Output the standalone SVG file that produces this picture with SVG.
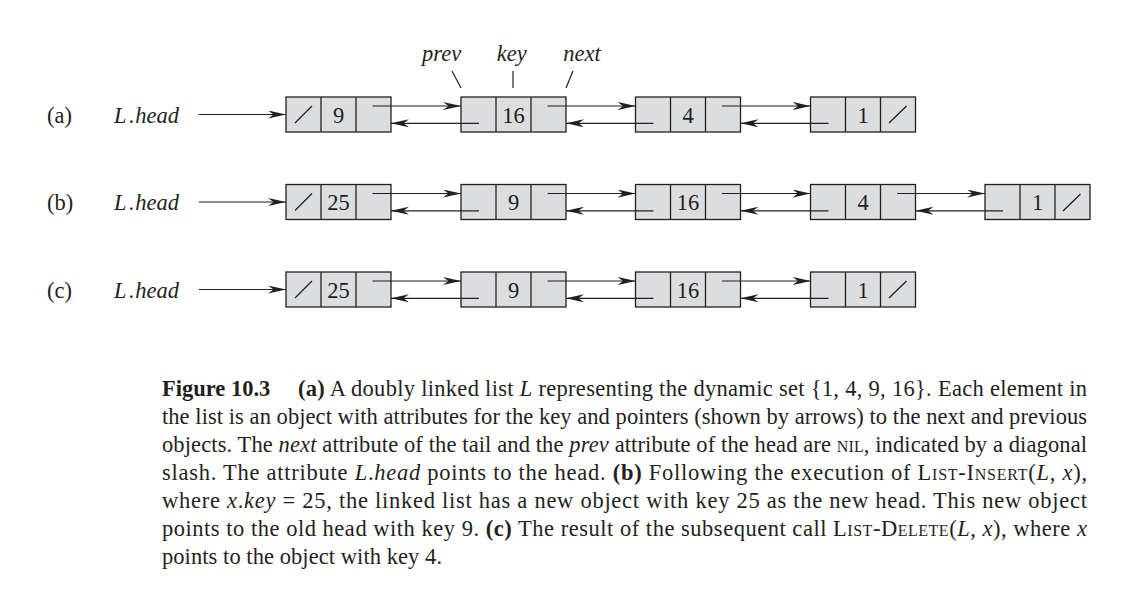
<svg xmlns="http://www.w3.org/2000/svg" width="1139" height="608" viewBox="0 0 1139 608">
<style>
text{font-family:"Liberation Serif","Times New Roman",serif;fill:#231f20}
.lab{font-size:22.5px;font-style:italic}
.tag{font-size:22.5px}
.key{font-size:22.5px;text-anchor:middle}
.cap{font-size:22.5px}
.b{font-weight:bold}
.i{font-style:italic}
.sc{font-variant:small-caps}
.box{fill:#dcdddf;stroke:#231f20;stroke-width:1.3}
.div{stroke:#231f20;stroke-width:1.3}
.sl{stroke:#231f20;stroke-width:1.3}
.ar{stroke:#231f20;stroke-width:1.2;fill:none;marker-end:url(#ah)}
.tick{stroke:#231f20;stroke-width:1.2}
</style>
<defs>
<marker id="ah" markerUnits="userSpaceOnUse" markerWidth="19" markerHeight="9" refX="18" refY="4" orient="auto">
<path d="M0,0 L18,4 L0,8 L5.5,4 Z" fill="#231f20"/>
</marker>
</defs>
<rect width="1139" height="608" fill="#ffffff"/>

<g id="field-labels">
<text class="lab" x="441.7" y="61" text-anchor="middle">prev</text>
<text class="lab" x="511.7" y="61" text-anchor="middle">key</text>
<text class="lab" x="582" y="61" text-anchor="middle">next</text>
<line class="tick" x1="452" y1="71" x2="461" y2="88"/>
<line class="tick" x1="513" y1="71" x2="513" y2="88"/>
<line class="tick" x1="573" y1="71" x2="566" y2="88"/>
</g>

<g id="row-labels">
<text class="tag" x="47" y="122.5">(a)</text>
<text class="lab" x="114" y="122.5">L<tspan dx="2" font-style="normal">.</tspan><tspan dx="1">head</tspan></text>
<text class="tag" x="47" y="210">(b)</text>
<text class="lab" x="114" y="210">L<tspan dx="2" font-style="normal">.</tspan><tspan dx="1">head</tspan></text>
<text class="tag" x="47" y="297.5">(c)</text>
<text class="lab" x="114" y="297.5">L<tspan dx="2" font-style="normal">.</tspan><tspan dx="1">head</tspan></text>
</g>

<!-- Row (a) -->
<g id="a-n9">
<rect class="box" x="286" y="97" width="105" height="35"/>
<line class="div" x1="321" y1="97" x2="321" y2="132"/><line class="div" x1="356" y1="97" x2="356" y2="132"/>
<line class="sl" x1="295" y1="123" x2="312" y2="106"/>
<text class="key" x="338.5" y="122.5">9</text>
</g>
<g id="a-n16">
<rect class="box" x="461" y="97" width="105" height="35"/>
<line class="div" x1="496" y1="97" x2="496" y2="132"/><line class="div" x1="531" y1="97" x2="531" y2="132"/>
<text class="key" x="513.5" y="122.5">16</text>
</g>
<g id="a-n4">
<rect class="box" x="635.5" y="97" width="105" height="35"/>
<line class="div" x1="670.5" y1="97" x2="670.5" y2="132"/><line class="div" x1="705.5" y1="97" x2="705.5" y2="132"/>
<text class="key" x="688" y="122.5">4</text>
</g>
<g id="a-n1">
<rect class="box" x="810.5" y="97" width="105" height="35"/>
<line class="div" x1="845.5" y1="97" x2="845.5" y2="132"/><line class="div" x1="880.5" y1="97" x2="880.5" y2="132"/>
<line class="sl" x1="889" y1="123" x2="906.5" y2="106"/>
<text class="key" x="863" y="122.5">1</text>
</g>

<!-- Row (b) -->
<g id="b-n25">
<rect class="box" x="286" y="184.5" width="105" height="35"/>
<line class="div" x1="321" y1="184.5" x2="321" y2="219.5"/><line class="div" x1="356" y1="184.5" x2="356" y2="219.5"/>
<line class="sl" x1="295" y1="210.5" x2="312" y2="193.5"/>
<text class="key" x="338.5" y="210">25</text>
</g>
<g id="b-n9">
<rect class="box" x="461" y="184.5" width="105" height="35"/>
<line class="div" x1="496" y1="184.5" x2="496" y2="219.5"/><line class="div" x1="531" y1="184.5" x2="531" y2="219.5"/>
<text class="key" x="513.5" y="210">9</text>
</g>
<g id="b-n16">
<rect class="box" x="635.5" y="184.5" width="105" height="35"/>
<line class="div" x1="670.5" y1="184.5" x2="670.5" y2="219.5"/><line class="div" x1="705.5" y1="184.5" x2="705.5" y2="219.5"/>
<text class="key" x="688" y="210">16</text>
</g>
<g id="b-n4">
<rect class="box" x="810.5" y="184.5" width="105" height="35"/>
<line class="div" x1="845.5" y1="184.5" x2="845.5" y2="219.5"/><line class="div" x1="880.5" y1="184.5" x2="880.5" y2="219.5"/>
<text class="key" x="863" y="210">4</text>
</g>
<g id="b-n1">
<rect class="box" x="985" y="184.5" width="105" height="35"/>
<line class="div" x1="1020" y1="184.5" x2="1020" y2="219.5"/><line class="div" x1="1055" y1="184.5" x2="1055" y2="219.5"/>
<line class="sl" x1="1063" y1="211" x2="1080.5" y2="194"/>
<text class="key" x="1037.5" y="210">1</text>
</g>

<!-- Row (c) -->
<g id="c-n25">
<rect class="box" x="286" y="272" width="105" height="35"/>
<line class="div" x1="321" y1="272" x2="321" y2="307"/><line class="div" x1="356" y1="272" x2="356" y2="307"/>
<line class="sl" x1="295" y1="298" x2="312" y2="281"/>
<text class="key" x="338.5" y="297.5">25</text>
</g>
<g id="c-n9">
<rect class="box" x="461" y="272" width="105" height="35"/>
<line class="div" x1="496" y1="272" x2="496" y2="307"/><line class="div" x1="531" y1="272" x2="531" y2="307"/>
<text class="key" x="513.5" y="297.5">9</text>
</g>
<g id="c-n16">
<rect class="box" x="635.5" y="272" width="105" height="35"/>
<line class="div" x1="670.5" y1="272" x2="670.5" y2="307"/><line class="div" x1="705.5" y1="272" x2="705.5" y2="307"/>
<text class="key" x="688" y="297.5">16</text>
</g>
<g id="c-n1">
<rect class="box" x="810.5" y="272" width="105" height="35"/>
<line class="div" x1="845.5" y1="272" x2="845.5" y2="307"/><line class="div" x1="880.5" y1="272" x2="880.5" y2="307"/>
<line class="sl" x1="889" y1="298" x2="906.5" y2="281"/>
<text class="key" x="863" y="297.5">1</text>
</g>

<g id="connectors">
<!-- head pointers -->
<line class="ar" x1="199" y1="114.5" x2="286" y2="114.5"/>
<line class="ar" x1="199" y1="202" x2="286" y2="202"/>
<line class="ar" x1="199" y1="289.5" x2="286" y2="289.5"/>
<!-- row (a) next -->
<line class="ar" x1="372.5" y1="106" x2="461" y2="106"/>
<line class="ar" x1="547.5" y1="106" x2="635.5" y2="106"/>
<line class="ar" x1="722" y1="106" x2="810.5" y2="106"/>
<!-- row (a) prev -->
<line class="ar" x1="479" y1="123.3" x2="391" y2="123.3"/>
<line class="ar" x1="653.5" y1="123.3" x2="566" y2="123.3"/>
<line class="ar" x1="828.5" y1="123.3" x2="740.5" y2="123.3"/>
<!-- row (b) next -->
<line class="ar" x1="372.5" y1="193.5" x2="461" y2="193.5"/>
<line class="ar" x1="547.5" y1="193.5" x2="635.5" y2="193.5"/>
<line class="ar" x1="722" y1="193.5" x2="810.5" y2="193.5"/>
<line class="ar" x1="897" y1="193.5" x2="985" y2="193.5"/>
<!-- row (b) prev -->
<line class="ar" x1="479" y1="210.8" x2="391" y2="210.8"/>
<line class="ar" x1="653.5" y1="210.8" x2="566" y2="210.8"/>
<line class="ar" x1="828.5" y1="210.8" x2="740.5" y2="210.8"/>
<line class="ar" x1="1003" y1="210.8" x2="915.5" y2="210.8"/>
<!-- row (c) next -->
<line class="ar" x1="372.5" y1="281" x2="461" y2="281"/>
<line class="ar" x1="547.5" y1="281" x2="635.5" y2="281"/>
<line class="ar" x1="722" y1="281" x2="810.5" y2="281"/>
<!-- row (c) prev -->
<line class="ar" x1="479" y1="298.3" x2="391" y2="298.3"/>
<line class="ar" x1="653.5" y1="298.3" x2="566" y2="298.3"/>
<line class="ar" x1="828.5" y1="298.3" x2="740.5" y2="298.3"/>
</g>

<g id="caption">
<text class="cap b" x="162" y="396">Figure 10.3</text>
<text class="cap" x="298" y="396" textLength="789" lengthAdjust="spacing"><tspan class="b">(a)</tspan> A doubly linked list <tspan class="i">L</tspan> representing the dynamic set {1, 4, 9, 16}. Each element in</text>
<text class="cap" x="162" y="424" textLength="925" lengthAdjust="spacing">the list is an object with attributes for the key and pointers (shown by arrows) to the next and previous</text>
<text class="cap" x="162" y="452" textLength="925" lengthAdjust="spacing">objects. The <tspan class="i">next</tspan> attribute of the tail and the <tspan class="i">prev</tspan> attribute of the head are <tspan class="sc">nil</tspan>, indicated by a diagonal</text>
<text class="cap" x="162" y="480" textLength="925" lengthAdjust="spacing">slash. The attribute <tspan class="i">L</tspan>.<tspan class="i">head</tspan> points to the head. <tspan class="b">(b)</tspan> Following the execution of <tspan class="sc">List-Insert</tspan>(<tspan class="i">L</tspan>, <tspan class="i">x</tspan>),</text>
<text class="cap" x="162" y="508" textLength="925" lengthAdjust="spacing">where <tspan class="i">x</tspan>.<tspan class="i">key</tspan> = 25, the linked list has a new object with key 25 as the new head. This new object</text>
<text class="cap" x="162" y="536" textLength="925" lengthAdjust="spacing">points to the old head with key 9. <tspan class="b">(c)</tspan> The result of the subsequent call <tspan class="sc">List-Delete</tspan>(<tspan class="i">L</tspan>, <tspan class="i">x</tspan>), where <tspan class="i">x</tspan></text>
<text class="cap" x="162" y="564" textLength="280" lengthAdjust="spacing">points to the object with key 4.</text>
</g>
</svg>
